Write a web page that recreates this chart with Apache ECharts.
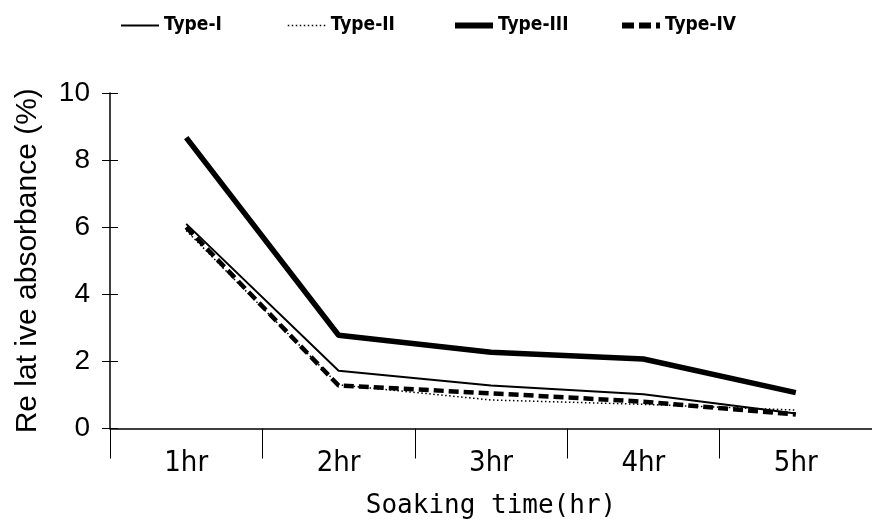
<!DOCTYPE html>
<html>
<head>
<meta charset="utf-8">
<script src="https://cdn.jsdelivr.net/npm/echarts@6/dist/echarts.min.js"></script>
<style>
  html, body { margin: 0; padding: 0; background: #fff; }
  #chart { width: 872px; height: 529px; }
</style>
</head>
<body>
<div id="chart"></div>
<script>
const categories = ["1hr", "2hr", "3hr", "4hr", "5hr"];
const typeI = [6.1, 1.72, 1.28, 1.02, 0.45];
const typeII = [5.9, 1.3, 0.85, 0.72, 0.55];
const typeIII = [8.67, 2.78, 2.27, 2.07, 1.07];
const typeIV = [6.0, 1.28, 1.05, 0.8, 0.42];

const narrow = '"DejaVu Sans Condensed", "Liberation Sans Narrow", "Liberation Sans", sans-serif';

const chart = echarts.init(document.getElementById("chart"));

// one legend per item so each sits where the reference has it
const legendAt = (name, left, width, type) => ({
  data: [name],
  left,
  top: 11,
  itemWidth: 38,
  itemHeight: 12,
  itemGap: 0,
  itemStyle: { opacity: 0 },
  lineStyle: { color: "#000", width, type, cap: "butt" },
  textStyle: { fontFamily: narrow, fontWeight: "bold", fontSize: 19, color: "#000", padding: [0, 0, 0, 0] },
});

const line = (name, data, width, type) => ({
  name,
  type: "line",
  data,
  symbol: "none",
  animation: false,
  lineStyle: { color: "#000", width, type, cap: "butt" },
  itemStyle: { color: "#000" },
});

chart.setOption({
  backgroundColor: "#fff",
  legend: [
    legendAt("Type-I", 115, 2, "solid"),
    legendAt("Type-II", 282, 1.5, [1.5, 2.5]),
    legendAt("Type-III", 447, 6, "solid"),
    legendAt("Type-IV", 614, 6, [12, 5]),
  ],
  grid: { left: 110, right: 0, top: 93, bottom: 100.5 },
  xAxis: {
    type: "category",
    data: categories,
    boundaryGap: true,
    name: "Soaking time(hr)",
    nameLocation: "middle",
    nameGap: 65,
    nameTextStyle: { fontFamily: '"DejaVu Sans Mono", monospace', fontSize: 26, color: "#000" },
    axisLine: { lineStyle: { color: "#000", width: 1.5 } },
    axisTick: { show: true, length: 30, interval: 0, lineStyle: { color: "#000", width: 1 } },
    axisLabel: { fontFamily: narrow, fontSize: 29, color: "#000", margin: 20 },
  },
  yAxis: [
    {
      type: "value",
      min: 0,
      max: 10,
      interval: 2,
      name: "Re lat ive absorbance (%)",
      nameLocation: "middle",
      nameGap: 67,
      nameTextStyle: { fontFamily: '"Liberation Sans", Arial, sans-serif', fontSize: 30, color: "#000" },
      splitLine: { show: false },
      axisLine: { show: true, lineStyle: { color: "#000", width: 1.5 } },
      axisTick: { show: true, length: 8, lineStyle: { color: "#000" } },
      axisLabel: { fontFamily: '"Liberation Sans", Arial, sans-serif', fontSize: 28, color: "#000", margin: 20 },
    },
    {
      type: "value",
      position: "left",
      min: 0,
      max: 10,
      interval: 2,
      splitLine: { show: false },
      axisLine: { show: false },
      axisTick: { show: true, inside: true, length: 8, lineStyle: { color: "#000" } },
      axisLabel: { show: false },
    },
  ],
  series: [
    line("Type-I", typeI, 2, "solid"),
    line("Type-II", typeII, 1.5, [1.5, 2.5]),
    line("Type-III", typeIII, 5.5, "solid"),
    line("Type-IV", typeIV, 4.5, [10, 5]),
  ],
});
</script>
</body>
</html>
